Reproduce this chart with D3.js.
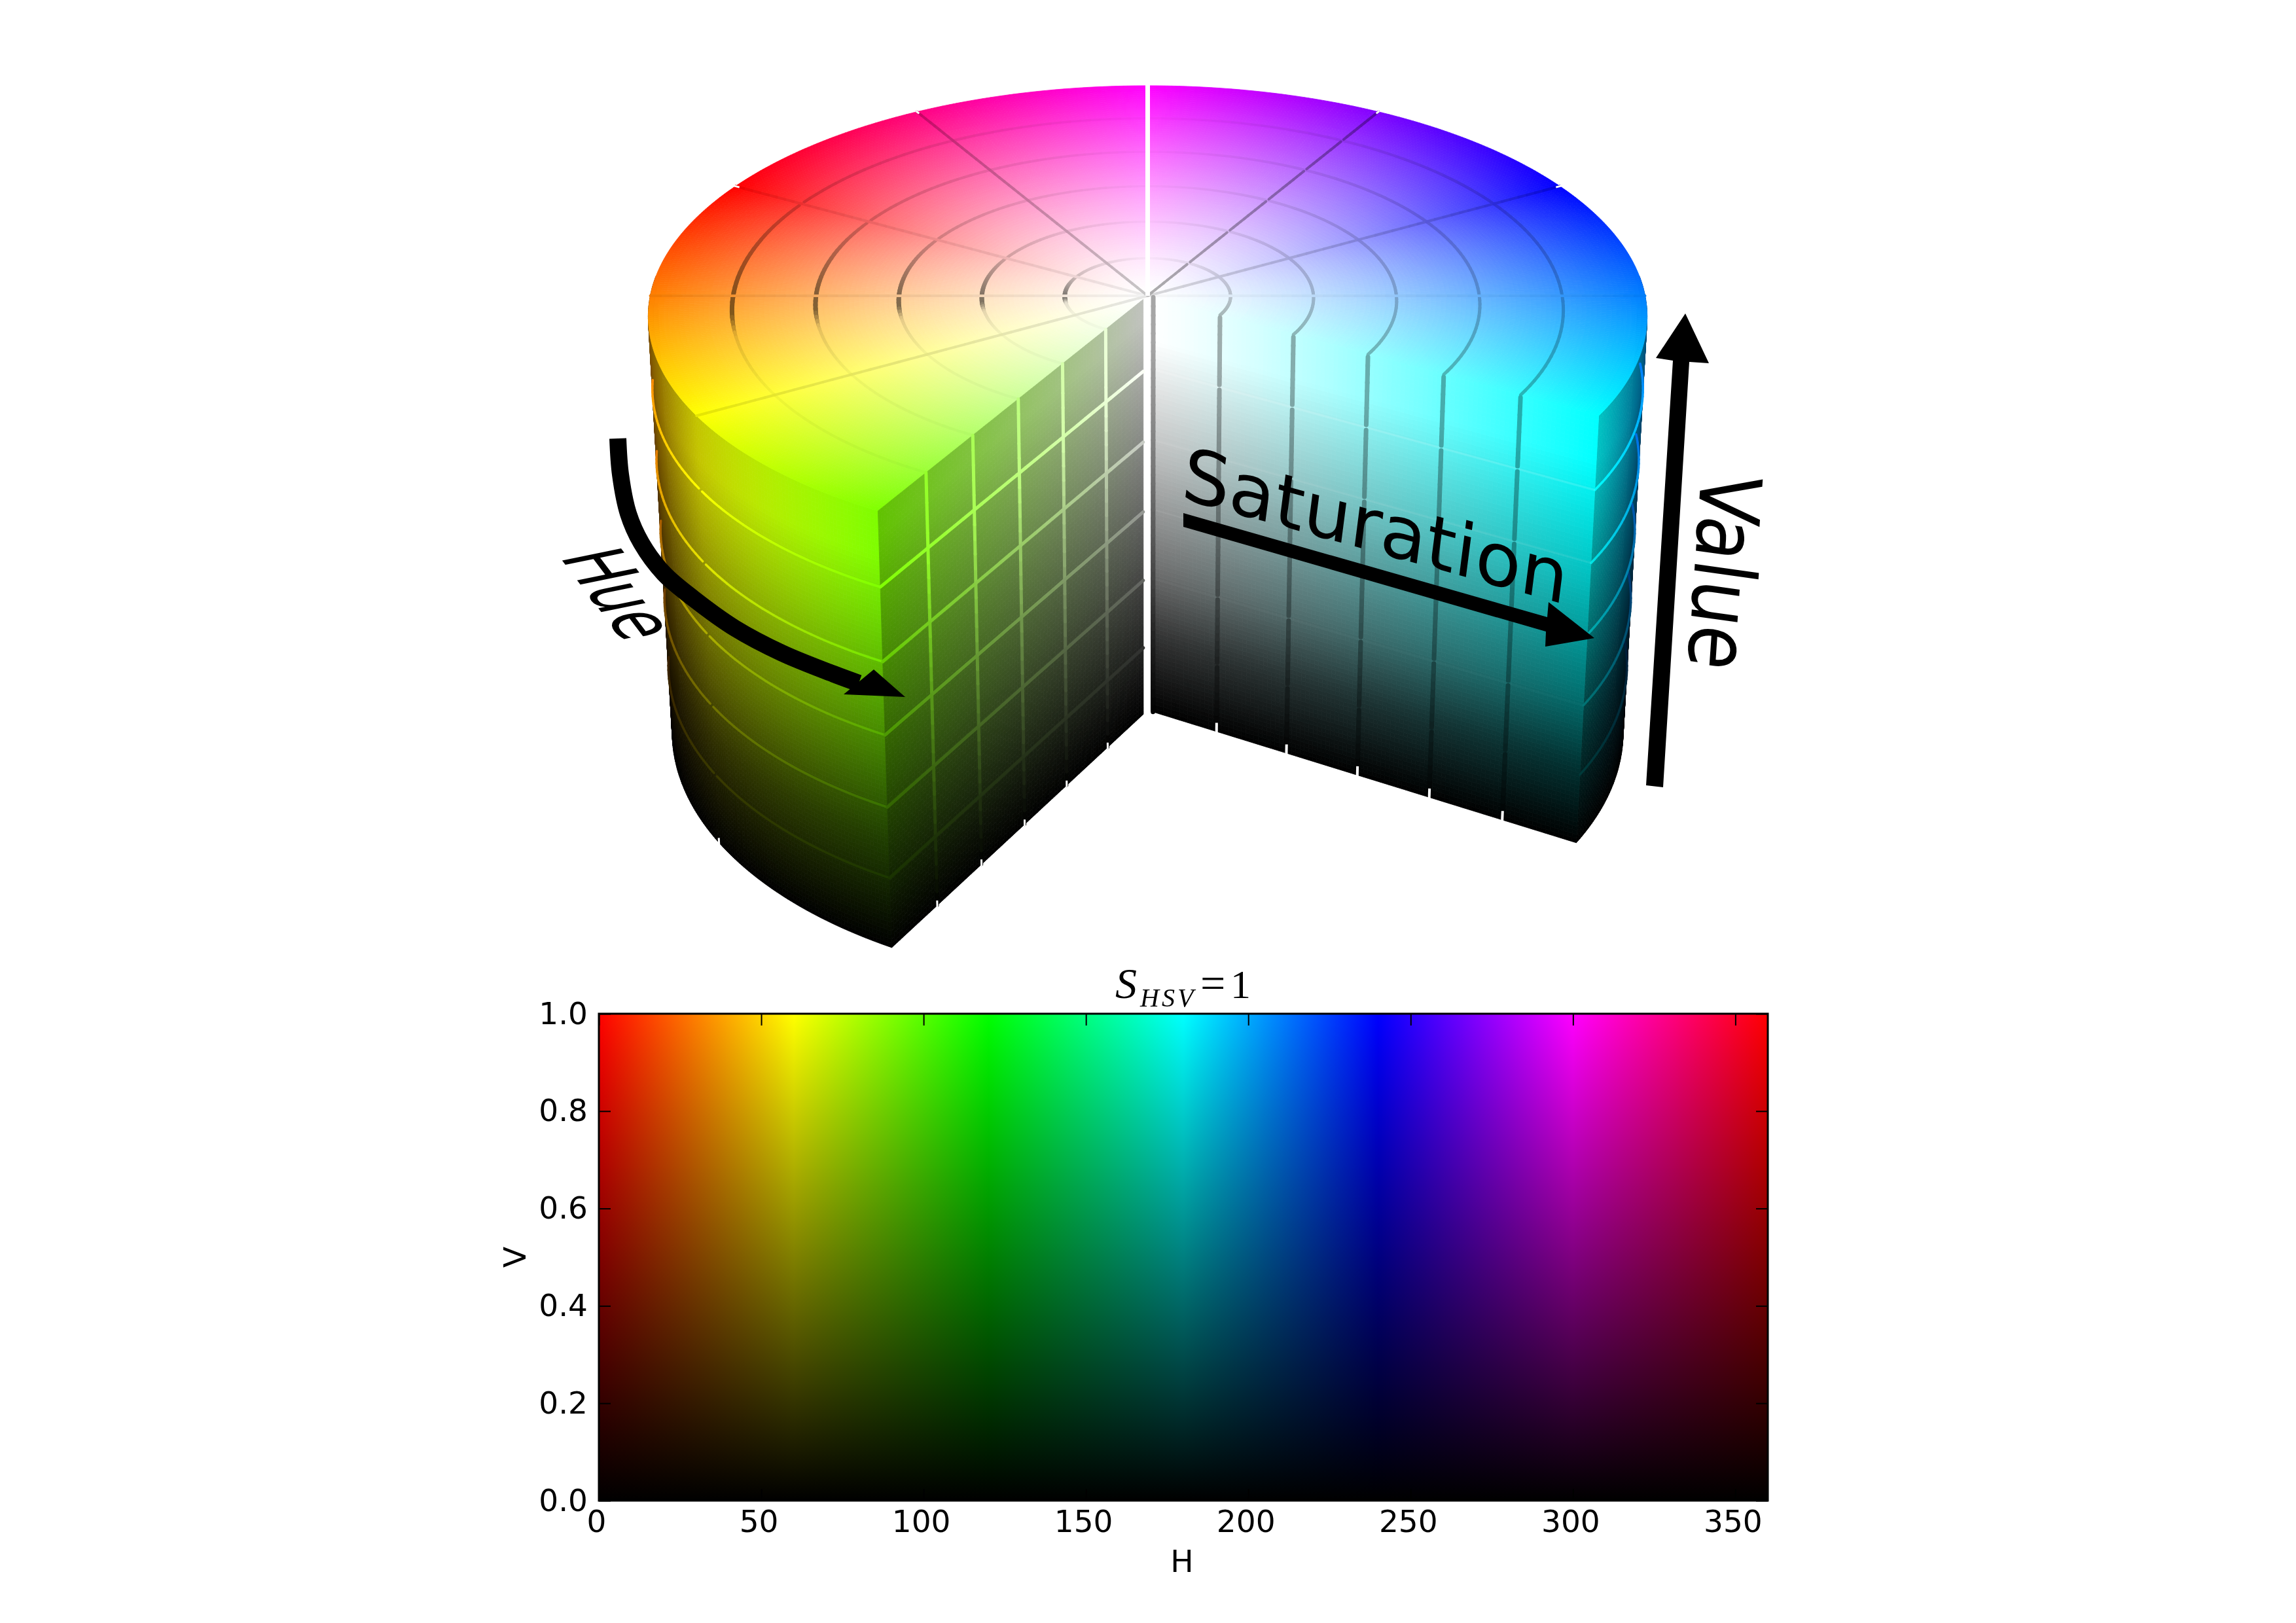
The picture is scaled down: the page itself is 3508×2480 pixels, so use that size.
<!DOCTYPE html>
<html>
<head>
<meta charset="utf-8">
<script src="https://cdn.jsdelivr.net/npm/d3@7"></script>
<style>
  body { margin: 0; background: #fff; }
  canvas, svg { position: absolute; left: 0; top: 0; }
  text { font-family: "DejaVu Sans"; fill: #000; }
</style>
</head>
<body>
<canvas id="solid" width="3508" height="2480"></canvas>
<svg id="chart" width="3508" height="2480"></svg>
<script>
// axis ticks of the flat S=1 plane
const hueTicks = [0, 50, 100, 150, 200, 250, 300, 350];
const valueTicks = [0, 0.2, 0.4, 0.6, 0.8, 1];
const hueStops = [0, 60, 120, 180, 240, 300, 360];

// grid of the cylinder
const ringRadii = [1 / 6, 2 / 6, 3 / 6, 4 / 6, 5 / 6];
const heightLevels = [1 / 6, 2 / 6, 3 / 6, 4 / 6, 5 / 6];

// how dark the ring grooves look around the top
const ringHue = [180, 210, 240, 270, 300, 330, 360, 375, 390, 396, 402, 420, 450];
const ringShade = [0.72, 0.8, 0.85, 0.93, 0.98, 0.92, 0.82, 0.68, 0.52, 0.5, 0.9, 0.96, 0.98];
const ringWidth = [5, 5, 4.5, 4, 3, 4, 4.5, 6, 7, 7, 5, 4, 4];

// the spokes on the top
const spokeHue = [0, 30, 60, 210, 240, 270, 330];
const spokeShade = [0.93, 0.95, 0.9, 0.97, 0.85, 0.68, 0.78];

const wallHeight = [0, 0.26, 0.5, 0.75, 0.9, 1];
const wallBright = [0, 0.25, 0.55, 0.84, 1, 1];
const faceHeight = [0, 0.19, 0.35, 0.63, 0.9, 1];
const faceBright = [0, 0.2, 0.43, 0.745, 1, 1];

const svg = d3.select("#chart");
const ctx = document.getElementById("solid").getContext("2d");
const rad = Math.PI / 180;

function project(r, h, z) {
  const phi = (h - 300) * rad;
  const X = -r * Math.sin(phi);
  const Y = r * Math.cos(phi);
  const t = 1 - z;
  const w = 1 + 0.09 * Y + 0.05 * t;
  return [1753.5 + 760 * X / w, 452 + (-350 * Y + 665 * t) / w];
}

function hsv(h, s, v, mul = 1) {
  const pure = d3.rgb(d3.hsl(((h % 360) + 360) % 360, 1, 0.5));
  const k = v * mul;
  return d3.rgb(
    k * (255 * (1 - s) + pure.r * s),
    k * (255 * (1 - s) + pure.g * s),
    k * (255 * (1 - s) + pure.b * s)
  ).formatRgb();
}

// the render washes out a little: saturation lags the radius, value clips early
const sat = r => Math.pow(r, 1.3);
const lit = (z, gain) => Math.min(1, z * gain);
const wallValue = d3.scaleLinear().domain(wallHeight).range(wallBright);
const rightValue = d3.scaleLinear().domain(faceHeight).range(faceBright);
const leftValue = z => Math.min(0.76, z * 0.8);

function quad(a, b, c, d, color) {
  ctx.beginPath();
  ctx.moveTo(a[0], a[1]);
  ctx.lineTo(b[0], b[1]);
  ctx.lineTo(c[0], c[1]);
  ctx.lineTo(d[0], d[1]);
  ctx.closePath();
  ctx.fillStyle = color;
  ctx.strokeStyle = color;
  ctx.fill();
  ctx.stroke();
}
ctx.lineWidth = 0.8;

// surfaces of the cylinder
const wallShade = h => 1 - 0.55 * Math.pow(Math.abs(Math.sin((h - 300) * rad)), 6);

function addWall(from, to) {
  const step = from < to ? 0.5 : -0.5;
  d3.range(from, to, step).forEach(h => {
    d3.range(0, 100).forEach(i => {
      const z0 = i / 100, z1 = (i + 1) / 100, hm = h + step / 2;
      quad(project(1, h, z0), project(1, h + step, z0), project(1, h + step, z1), project(1, h, z1),
        hsv(hm, 1, wallValue((z0 + z1) / 2), wallShade(hm)));
    });
  });
}
addWall(25, 90);
addWall(215, 180);

d3.range(180, 450, 0.5).forEach(h => {
  d3.range(0, 100).forEach(i => {
    const r0 = i / 100, r1 = (i + 1) / 100;
    quad(project(r0, h, 1), project(r1, h, 1), project(r1, h + 0.5, 1), project(r0, h + 0.5, 1),
      hsv(h + 0.25, sat((r0 + r1) / 2), 1));
  });
});

function addFace(h, rStart, saturation, value) {
  const dr = (1 - rStart) / 100;
  d3.range(0, 100).forEach(k => {
    const r0 = rStart + dr * k, r1 = r0 + dr;
    d3.range(0, 100).forEach(i => {
      const z0 = i / 100, z1 = (i + 1) / 100;
      quad(project(r0, h, z0), project(r1, h, z0), project(r1, h, z1), project(r0, h, z1),
        hsv(h, saturation(r0 + dr / 2), value((z0 + z1) / 2)));
    });
  });
}
addFace(90, 0.018, r => r, leftValue);
addFace(180, 0.008, sat, rightValue);

// grooves, cut into short pieces because the colour changes along them
const grooves = [];
function addGroove(n, at, color, width, opacity = 1) {
  d3.range(0, n).forEach(i => {
    const a = at(i / n), b = at((i + 1) / n), m = at((i + 0.5) / n);
    grooves.push({ a: project(...a), b: project(...b), c: color(...m), w: width(...m), o: opacity });
  });
}

const ringMul = d3.scaleLinear().domain(ringHue).range(ringShade);
const ringW = d3.scaleLinear().domain(ringHue).range(ringWidth);

ringRadii.forEach(r => {
  // the ring is broken where the patches meet at hue 0
  [[180, 359.4], [360.6, 450]].forEach(([h0, h1]) => {
    addGroove(Math.round((h1 - h0) / 1.5), t => [r, h0 + (h1 - h0) * t, 1],
      (rr, h) => hsv(h, sat(rr), 1, ringMul(h)), (rr, h) => ringW(h));
  });
});

spokeHue.forEach((h, i) => {
  // only the spoke at 270 is broken at each ring
  const from = h === 270 ? [0].concat(ringRadii.map(r => r + 0.006)) : [0];
  const to = h === 270 ? ringRadii.map(r => r - 0.006).concat([1]) : [1];
  from.forEach((c, k) => {
    addGroove(h === 270 ? 10 : 48, t => [c + (to[k] - c) * t, h, 1],
      rr => hsv(h, sat(rr), 1, spokeShade[i]), () => 4);
  });
});

// wall rings show the colour without the shading
heightLevels.forEach(z => {
  [[33, 59.6], [60.4, 90], [180, 211]].forEach(([h0, h1]) => {
    addGroove(Math.round(h1 - h0), t => [1, h0 + (h1 - h0) * t, z],
      (r, h) => hsv(h, 1, lit(z, 1.35)), () => 3.5);
  });
});

// left cut face: light lines
ringRadii.forEach(r => {
  addGroove(30, t => [r, 90, t], (rr, h, z) => hsv(90, rr, lit(z, 1.2)), () => 5);
});
heightLevels.forEach(z => {
  addGroove(30, t => [0.018 + (1 - 0.018) * t, 90, z], rr => hsv(90, rr, lit(z, 1.2)), () => 5);
});

// right cut face: dark upright lines and very faint level lines
heightLevels.forEach(z => {
  addGroove(1, t => [0.008 + (1 - 0.008) * t, 180, z], () => "#fff", () => 3, 0.2 * z * z);
});
ringRadii.forEach(r => {
  const levels = [0].concat(heightLevels, [1]);
  d3.pairs(levels).forEach(([z0, z1]) => {
    addGroove(8, t => [r, 180, z0 + 0.006 + (z1 - z0 - 0.012) * t],
      (rr, h, z) => hsv(180, sat(rr), rightValue(z), 0.68), () => 7);
  });
});
addGroove(48, t => [0.013, 180, t], (rr, h, z) => hsv(180, 0, rightValue(z), 0.65), () => 7);

svg.append("g").selectAll("line")
  .data(grooves)
  .join("line")
  .attr("x1", d => d.a[0]).attr("y1", d => d.a[1])
  .attr("x2", d => d.b[0]).attr("y2", d => d.b[1])
  .attr("stroke", d => d.c)
  .attr("stroke-width", d => d.w)
  .attr("stroke-opacity", d => d.o)
  .attr("stroke-linecap", d => d.o < 1 ? "butt" : "round");

// white nicks where the patches meet on the outline, and the slit at the back
const nicks = [];
[330, 360, 270, 240].forEach(h => nicks.push({ a: project(1.004, h, 1), b: project(0.99, h, 1), w: 3 }));
nicks.push({ a: project(1, 60, -0.004), b: project(1, 60, 0.012), w: 3 });
ringRadii.forEach(r => {
  nicks.push({ a: project(r, 90, -0.004), b: project(r, 90, 0.012), w: 3 });
  nicks.push({ a: project(r, 180, -0.004), b: project(r, 180, 0.022), w: 4 });
});
nicks.push({ a: project(1.006, 300, 1), b: project(0, 300, 1), w: 7 });

svg.append("g").selectAll("line")
  .data(nicks)
  .join("line")
  .attr("x1", d => d.a[0]).attr("y1", d => d.a[1])
  .attr("x2", d => d.b[0]).attr("y2", d => d.b[1])
  .attr("stroke", "#fff")
  .attr("stroke-width", d => d.w);

// arrows
const hueCurve = d3.line().curve(d3.curveCatmullRom.alpha(0.5));
svg.append("path")
  .attr("d", hueCurve([[944, 670], [948, 725], [960, 785], [980, 830], [1014, 876], [1060, 915],
    [1123, 960], [1195, 998], [1274, 1030], [1312, 1044]]))
  .attr("fill", "none")
  .attr("stroke", "#000")
  .attr("stroke-width", 26);

const arrowHeads = [
  [[1383, 1065], [1335, 1023], [1289, 1061]],
  [[1808, 784], [2364, 943], [2366, 920], [2436, 975], [2361, 988], [2362, 965], [1808, 805]],
  [[2515, 1200], [2556, 551], [2530, 547], [2575, 479], [2611, 555], [2581, 553], [2541, 1203]]
];
svg.append("g").selectAll("polygon")
  .data(arrowHeads)
  .join("polygon")
  .attr("points", d => d.join(" "))
  .attr("fill", "#000");

// the three labels sit skewed on the cylinder
svg.append("text").text("Hue").attr("font-size", 100)
  .attr("transform", "matrix(0.5,0.66,-1.235,0.252,854,850)");
svg.append("text").text("Saturation").attr("font-size", 100)
  .attr("transform", "matrix(1.128,0.312,-0.142,1.111,1803,761)");
svg.append("text").text("Value").attr("font-size", 100)
  .attr("transform", "matrix(-0.075,1.09,-1.287,-0.181,2599.5,718.5)");

// flat plane at S = 1
const plot = { left: 915, right: 2701, top: 1549, bottom: 2293 };
const x = d3.scaleLinear().domain([0, 360]).range([plot.left, plot.right]);
const y = d3.scaleLinear().domain([0, 1]).range([plot.bottom, plot.top]);

const defs = svg.append("defs");
defs.append("linearGradient")
  .attr("id", "hueRamp")
  .attr("gradientUnits", "userSpaceOnUse")
  .attr("x1", x(0)).attr("x2", x(360)).attr("y1", 0).attr("y2", 0)
  .selectAll("stop")
  .data(hueStops)
  .join("stop")
  .attr("offset", d => d / 360)
  .attr("stop-color", d => hsv(d, 1, 1));
defs.append("linearGradient")
  .attr("id", "valueRamp")
  .attr("gradientUnits", "userSpaceOnUse")
  .attr("x1", 0).attr("x2", 0).attr("y1", y(1)).attr("y2", y(0))
  .selectAll("stop")
  .data([0, 1])
  .join("stop")
  .attr("offset", d => d)
  .attr("stop-color", "#000")
  .attr("stop-opacity", d => d);

["hueRamp", "valueRamp"].forEach(id => {
  svg.append("rect")
    .attr("x", x(0)).attr("y", y(1))
    .attr("width", x(360) - x(0)).attr("height", y(0) - y(1))
    .attr("fill", `url(#${id})`);
});

const fontSize = 47;
function styleAxis(g) {
  g.select(".domain").remove();
  g.selectAll(".tick line").attr("stroke", "#000").attr("stroke-width", 2);
  g.selectAll("text").attr("font-size", fontSize).attr("font-family", "DejaVu Sans").attr("fill", "#000");
}
svg.append("g")
  .attr("transform", `translate(0,${plot.bottom})`)
  .call(d3.axisBottom(x).tickValues(hueTicks).tickSize(-18).tickPadding(15))
  .call(styleAxis)
  .selectAll("text").attr("dx", -4);
svg.append("g")
  .attr("transform", `translate(0,${plot.top})`)
  .call(d3.axisTop(x).tickValues(hueTicks).tickSize(-18).tickFormat(""))
  .call(styleAxis);
svg.append("g")
  .attr("transform", `translate(${plot.left},0)`)
  .call(d3.axisLeft(y).tickValues(valueTicks).tickSize(-18).tickPadding(17).tickFormat(d3.format(".1f")))
  .call(styleAxis);
svg.append("g")
  .attr("transform", `translate(${plot.right},0)`)
  .call(d3.axisRight(y).tickValues(valueTicks).tickSize(-18).tickFormat(""))
  .call(styleAxis);

svg.append("rect")
  .attr("x", plot.left).attr("y", plot.top)
  .attr("width", plot.right - plot.left).attr("height", plot.bottom - plot.top)
  .attr("fill", "none").attr("stroke", "#000").attr("stroke-width", 3);

svg.append("text").text("H")
  .attr("x", 1806).attr("y", 2402)
  .attr("text-anchor", "middle").attr("font-size", fontSize);
svg.append("text").text("V")
  .attr("transform", "translate(803,1921) rotate(-90)")
  .attr("text-anchor", "middle").attr("font-size", fontSize);

const title = svg.append("text")
  .attr("x", 1704).attr("y", 1525)
  .style("font-family", '"Liberation Serif"')
  .attr("font-size", 66);
title.append("tspan").text("S").attr("font-style", "italic");
title.append("tspan").text("HSV").attr("font-style", "italic")
  .attr("font-size", 40).attr("letter-spacing", 4).attr("x", 1742).attr("dy", 13);
title.append("tspan").text("=").attr("font-size", 68).attr("x", 1834).attr("dy", -13);
title.append("tspan").text("1").attr("font-size", 62).attr("x", 1880);
</script>
</body>
</html>
